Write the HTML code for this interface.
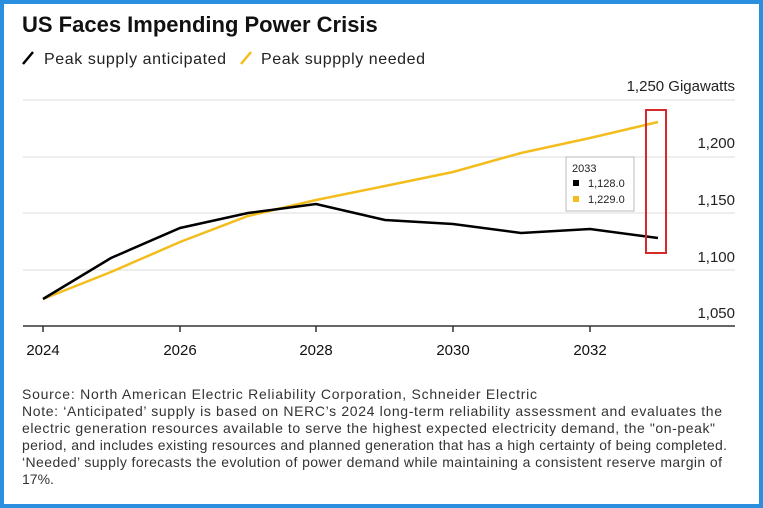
<!DOCTYPE html>
<html><head><style>
body{margin:0;width:763px;height:508px;overflow:hidden;background:#fff;font-family:"Liberation Sans",sans-serif;}
.frame{position:absolute;left:0;top:0;width:755px;height:500px;border:4px solid #2b8fe0;}
</style></head><body>
<div class="frame"></div>
<svg width="763" height="508" style="position:absolute;left:0;top:0" font-family="Liberation Sans, sans-serif">
<text x="22" y="32" font-size="22" font-weight="bold" fill="#111">US Faces Impending Power Crisis</text>
<line x1="23" y1="64" x2="33" y2="52" stroke="#000" stroke-width="2.5"/>
<text x="44" y="64" font-size="16" fill="#222" textLength="182">Peak supply anticipated</text>
<line x1="241" y1="64" x2="251" y2="52" stroke="#f2bd1d" stroke-width="2.5"/>
<text x="261" y="64" font-size="16" fill="#222" textLength="164">Peak suppply needed</text>
<text x="735" y="91" font-size="15" fill="#222" text-anchor="end">1,250 Gigawatts</text>
<g stroke="#ddd" stroke-width="1">
<line x1="23" y1="100" x2="735" y2="100"/>
<line x1="23" y1="157" x2="735" y2="157"/>
<line x1="23" y1="213" x2="735" y2="213"/>
<line x1="23" y1="270" x2="735" y2="270"/>
</g>
<g font-size="15" fill="#222" text-anchor="end">
<text x="735" y="148">1,200</text>
<text x="735" y="205">1,150</text>
<text x="735" y="262">1,100</text>
<text x="735" y="318">1,050</text>
</g>
<line x1="23" y1="326" x2="735" y2="326" stroke="#333" stroke-width="1.5"/>
<g stroke="#333" stroke-width="1.5">
<line x1="43" y1="326" x2="43" y2="332"/><line x1="180" y1="326" x2="180" y2="332"/>
<line x1="316" y1="326" x2="316" y2="332"/><line x1="453" y1="326" x2="453" y2="332"/>
<line x1="590" y1="326" x2="590" y2="332"/>
</g>
<g font-size="15" fill="#111" text-anchor="middle">
<text x="43" y="355">2024</text><text x="180" y="355">2026</text><text x="316" y="355">2028</text>
<text x="453" y="355">2030</text><text x="590" y="355">2032</text>
</g>
<polyline fill="none" stroke="#f2bd1d" stroke-width="2.5" points="43,299 111,272 180,242 248,216 316,200 385,186 453,172 521,153 590,138 658,122"/>
<polyline fill="none" stroke="#000" stroke-width="2.5" points="43,299 111,258 180,228 248,213 316,204 385,220 453,224 521,233 590,229 658,238"/>
<rect x="646" y="110" width="20" height="143" fill="none" stroke="#d62a2a" stroke-width="2"/>
<rect x="566" y="157" width="68" height="54" fill="#fff" stroke="#bbb"/>
<text x="572" y="172" font-size="11" fill="#222">2033</text>
<rect x="573" y="180" width="6" height="6" fill="#000"/>
<text x="588" y="187" font-size="11" fill="#222">1,128.0</text>
<rect x="573" y="196" width="6" height="6" fill="#f2bd1d"/>
<text x="588" y="203" font-size="11" fill="#222">1,229.0</text>
<g font-size="14" fill="#333">
<text x="22" y="399" textLength="515">Source: North American Electric Reliability Corporation, Schneider Electric</text>
<text x="22" y="416" textLength="700">Note: ‘Anticipated’ supply is based on NERC’s 2024 long-term reliability assessment and evaluates the</text>
<text x="22" y="433" textLength="693">electric generation resources available to serve the highest expected electricity demand, the "on-peak"</text>
<text x="22" y="450" textLength="705">period, and includes existing resources and planned generation that has a high certainty of being completed.</text>
<text x="22" y="467" textLength="700">‘Needed’ supply forecasts the evolution of power demand while maintaining a consistent reserve margin of</text>
<text x="22" y="484">17%.</text>
</g>
</svg>
</body></html>
